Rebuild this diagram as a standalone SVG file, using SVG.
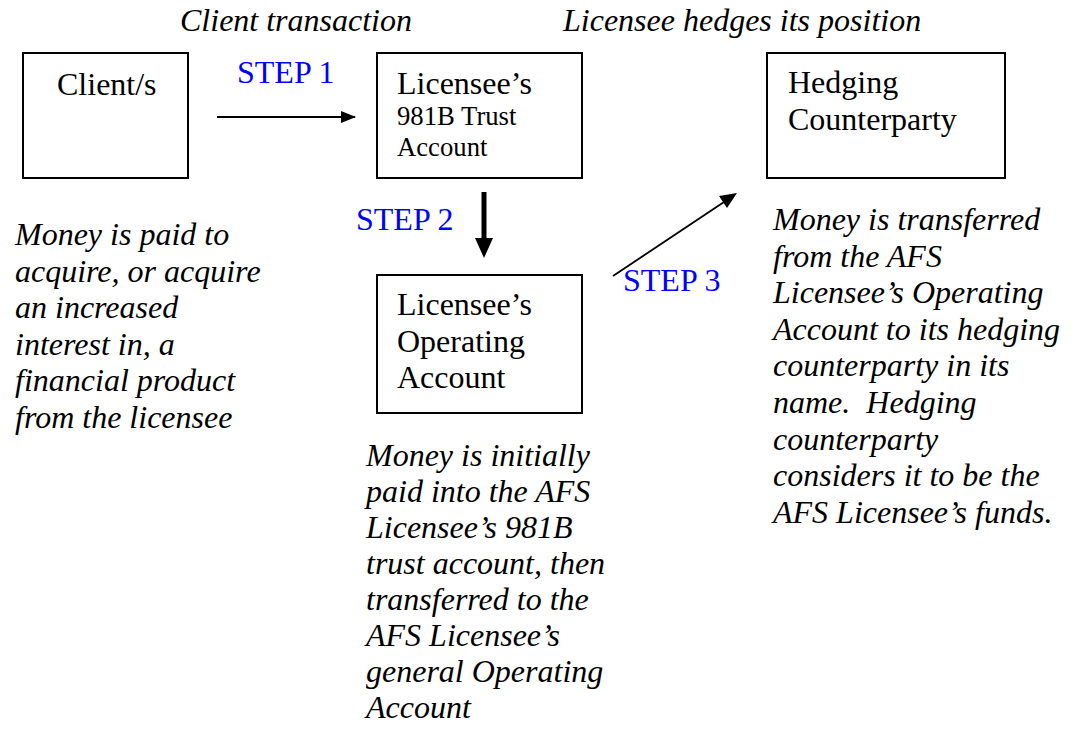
<svg xmlns="http://www.w3.org/2000/svg" width="1072" height="731" viewBox="0 0 1072 731">
  <style>
    .box { fill: #ffffff; stroke: #000000; stroke-width: 2; }
    .t { font-family: "Liberation Serif", "Times New Roman", serif; font-size: 32px; fill: #000000; }
    .sm { font-size: 26.7px; }
    .it { font-style: italic; }
    .step { font-family: "Liberation Serif", "Times New Roman", serif; font-size: 32px; fill: #0000ff; }
  </style>
  <rect width="1072" height="731" fill="#ffffff"/>

  <!-- headings -->
  <text class="t it" x="180" y="31">Client transaction</text>
  <text class="t it" x="563" y="31">Licensee hedges its position</text>

  <!-- nodes -->
  <g id="client">
    <rect class="box" x="23" y="53" width="165" height="125"/>
    <text class="t" x="57" y="95">Client/s</text>
  </g>
  <g id="trust-account">
    <rect class="box" x="377" y="53" width="205" height="125"/>
    <text class="t" x="397" y="94">Licensee’s</text>
    <text class="t sm" x="397" y="125">981B Trust</text>
    <text class="t sm" x="397" y="156">Account</text>
  </g>
  <g id="hedging-counterparty">
    <rect class="box" x="767" y="53" width="238" height="125"/>
    <text class="t" x="788" y="93">Hedging</text>
    <text class="t" x="788" y="130">Counterparty</text>
  </g>
  <g id="operating-account">
    <rect class="box" x="377" y="275" width="205" height="138"/>
    <text class="t" x="397" y="315">Licensee’s</text>
    <text class="t" x="397" y="352">Operating</text>
    <text class="t" x="397" y="388">Account</text>
  </g>

  <!-- connectors -->
  <g id="connectors">
    <g id="step1">
      <path d="M217,117 H355" stroke="#000" stroke-width="1.8" fill="none"/>
      <path d="M341,111 L356,117 L341,123 z" fill="#000"/>
      <text class="step" x="237" y="83">STEP 1</text>
    </g>
    <g id="step2">
      <path d="M484,192 V240" stroke="#000" stroke-width="5" fill="none"/>
      <path d="M475,238 L493,238 L484,258 z" fill="#000"/>
      <text class="step" x="356" y="230">STEP 2</text>
    </g>
    <g id="step3">
      <path d="M613,276 L724,202" stroke="#000" stroke-width="1.8" fill="none"/>
      <path d="M737,193 L727,208 L719,196 z" fill="#000"/>
      <text class="step" x="623" y="291">STEP 3</text>
    </g>
  </g>

  <!-- notes -->
  <g id="note-client">
    <text class="t it" x="15" y="245">Money is paid to</text>
    <text class="t it" x="15" y="282">acquire, or acquire</text>
    <text class="t it" x="15" y="318">an increased</text>
    <text class="t it" x="15" y="355">interest in, a</text>
    <text class="t it" x="15" y="391">financial product</text>
    <text class="t it" x="15" y="428">from the licensee</text>
  </g>
  <g id="note-operating">
    <text class="t it" x="366" y="466">Money is initially</text>
    <text class="t it" x="366" y="502">paid into the AFS</text>
    <text class="t it" x="366" y="538">Licensee’s 981B</text>
    <text class="t it" x="366" y="574">trust account, then</text>
    <text class="t it" x="366" y="610">transferred to the</text>
    <text class="t it" x="366" y="646">AFS Licensee’s</text>
    <text class="t it" x="366" y="682">general Operating</text>
    <text class="t it" x="366" y="718">Account</text>
  </g>
  <g id="note-hedging">
    <text class="t it" x="773" y="230">Money is transferred</text>
    <text class="t it" x="773" y="267">from the AFS</text>
    <text class="t it" x="773" y="303">Licensee’s Operating</text>
    <text class="t it" x="773" y="340">Account to its hedging</text>
    <text class="t it" x="773" y="376">counterparty in its</text>
    <text class="t it" x="773" y="413">name.&#160; Hedging</text>
    <text class="t it" x="773" y="450">counterparty</text>
    <text class="t it" x="773" y="486">considers it to be the</text>
    <text class="t it" x="773" y="523">AFS Licensee’s funds.</text>
  </g>
</svg>
